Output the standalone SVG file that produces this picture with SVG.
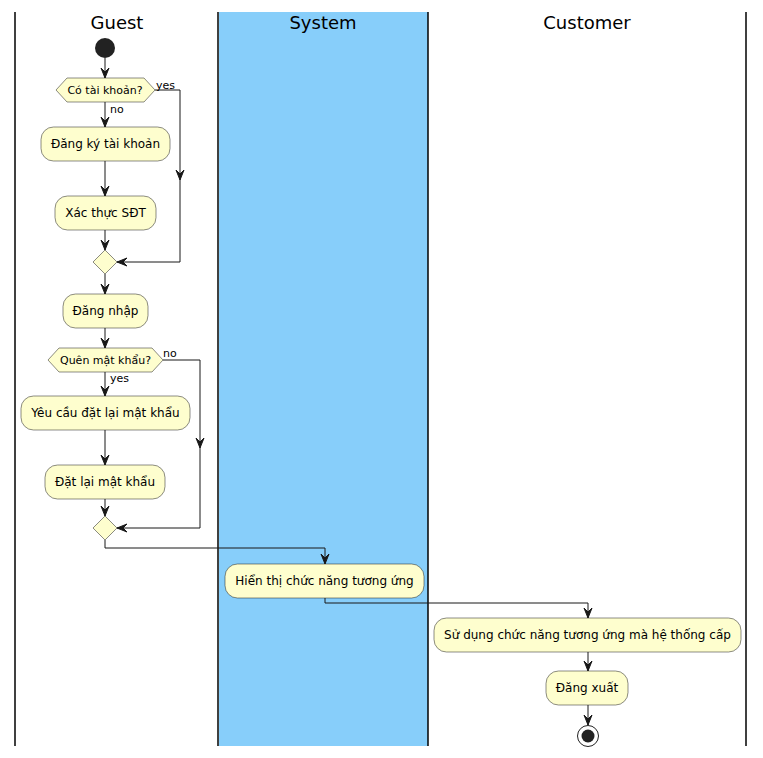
<svg xmlns="http://www.w3.org/2000/svg" width="763" height="758" viewBox="0 0 763 758">
<style>
.lane{stroke:#000;stroke-width:1.5;fill:none}
.title{font-family:"DejaVu Sans",sans-serif;font-size:18px;fill:#000;text-anchor:middle}
.box{fill:#FEFECE;stroke:#181818;stroke-width:0.5}
.t{font-family:"DejaVu Sans",sans-serif;font-size:12px;fill:#000;text-anchor:middle}
.lbl{font-family:"DejaVu Sans",sans-serif;font-size:11px;fill:#000}
.c{stroke:#181818;stroke-width:1;fill:none}
.ah{fill:#181818;stroke:#181818;stroke-width:1}
</style>
<defs>
<polygon id="ad" points="-4,-10 0,0 4,-10 0,-6"/>
<polygon id="al" points="10,-4 0,0 10,4 6,0"/>
</defs>
<rect x="15" y="0" width="748" height="758" fill="#fff"/>
<rect x="219" y="12" width="209" height="734" fill="#87CEFA"/>
<g id="lanes">
<line class="lane" x1="15" y1="12" x2="15" y2="746"/>
<line class="lane" x1="218" y1="12" x2="218" y2="746"/>
<line class="lane" x1="428" y1="12" x2="428" y2="746"/>
<line class="lane" x1="746" y1="12" x2="746" y2="746"/>
<text class="title" x="117" y="29">Guest</text>
<text class="title" x="323" y="29">System</text>
<text class="title" x="587" y="29">Customer</text>
</g>
<g id="connectors">
<line class="c" x1="105" y1="58" x2="105" y2="78"/>
<use href="#ad" class="ah" x="105" y="78"/>
<line class="c" x1="105" y1="102" x2="105" y2="127"/>
<use href="#ad" class="ah" x="105" y="127"/>
<text class="lbl" x="110" y="113">no</text>
<polyline class="c" points="155,90 180,90 180,262 117,262"/>
<use href="#ad" class="ah" x="180" y="180"/>
<use href="#al" class="ah" x="117" y="262"/>
<text class="lbl" x="156" y="89">yes</text>
<line class="c" x1="105" y1="161" x2="105" y2="196"/>
<use href="#ad" class="ah" x="105" y="196"/>
<line class="c" x1="105" y1="230" x2="105" y2="250"/>
<use href="#ad" class="ah" x="105" y="250"/>
<line class="c" x1="105" y1="274" x2="105" y2="294"/>
<use href="#ad" class="ah" x="105" y="294"/>
<line class="c" x1="105" y1="328" x2="105" y2="348"/>
<use href="#ad" class="ah" x="105" y="348"/>
<line class="c" x1="105" y1="372" x2="105" y2="396"/>
<use href="#ad" class="ah" x="105" y="396"/>
<text class="lbl" x="110" y="382">yes</text>
<polyline class="c" points="163,360 200,360 200,528 117,528"/>
<use href="#ad" class="ah" x="200" y="448"/>
<use href="#al" class="ah" x="117" y="528"/>
<text class="lbl" x="163" y="357">no</text>
<line class="c" x1="105" y1="430" x2="105" y2="465"/>
<use href="#ad" class="ah" x="105" y="465"/>
<line class="c" x1="105" y1="499" x2="105" y2="516"/>
<use href="#ad" class="ah" x="105" y="516"/>
<polyline class="c" points="105,540 105,548 325,548 325,564"/>
<use href="#ad" class="ah" x="325" y="564"/>
<polyline class="c" points="325,598 325,603 588,603 588,618"/>
<use href="#ad" class="ah" x="588" y="618"/>
<line class="c" x1="588" y1="652" x2="588" y2="671"/>
<use href="#ad" class="ah" x="588" y="671"/>
<line class="c" x1="588" y1="705" x2="588" y2="725"/>
<use href="#ad" class="ah" x="588" y="725"/>
</g>
<g id="start"><circle cx="105" cy="48" r="10" fill="#222"/></g>
<g id="d1">
<polygon class="box" points="56,90 67,78 144,78 155,90 144,102 67,102"/>
<text class="t" x="105" y="94" style="font-size:11px">Có tài khoản?</text>
</g>
<g id="n1"><rect class="box" x="41" y="127" width="129" height="34" rx="12.5"/><text class="t" x="105.5" y="148">Đăng ký tài khoản</text></g>
<g id="n2"><rect class="box" x="55" y="196" width="101" height="34" rx="12.5"/><text class="t" x="105.5" y="217">Xác thực SĐT</text></g>
<g id="m1"><polygon class="box" points="105,250 117,262 105,274 93,262"/></g>
<g id="n3"><rect class="box" x="63" y="294" width="85" height="34" rx="12.5"/><text class="t" x="105.5" y="315">Đăng nhập</text></g>
<g id="d2">
<polygon class="box" points="48,360 59,348 152,348 163,360 152,372 59,372"/>
<text class="t" x="105.5" y="364" style="font-size:11px">Quên mật khẩu?</text>
</g>
<g id="n4"><rect class="box" x="21" y="396" width="169" height="34" rx="12.5"/><text class="t" x="105.5" y="417">Yêu cầu đặt lại mật khẩu</text></g>
<g id="n5"><rect class="box" x="45" y="465" width="120" height="34" rx="12.5"/><text class="t" x="105" y="486">Đặt lại mật khẩu</text></g>
<g id="m2"><polygon class="box" points="105,516 117,528 105,540 93,528"/></g>
<g id="n6"><rect class="box" x="225" y="564" width="199" height="34" rx="12.5"/><text class="t" x="324.5" y="585">Hiển thị chức năng tương ứng</text></g>
<g id="n7"><rect class="box" x="434" y="618" width="307" height="34" rx="12.5"/><text class="t" x="587.5" y="639">Sử dụng chức năng tương ứng mà hệ thống cấp</text></g>
<g id="n8"><rect class="box" x="546" y="671" width="82" height="34" rx="12.5"/><text class="t" x="587" y="692">Đăng xuất</text></g>
<g id="end"><circle cx="588" cy="736" r="10.5" fill="none" stroke="#222" stroke-width="1"/><circle cx="588" cy="736" r="6.5" fill="#222"/></g>
</svg>
